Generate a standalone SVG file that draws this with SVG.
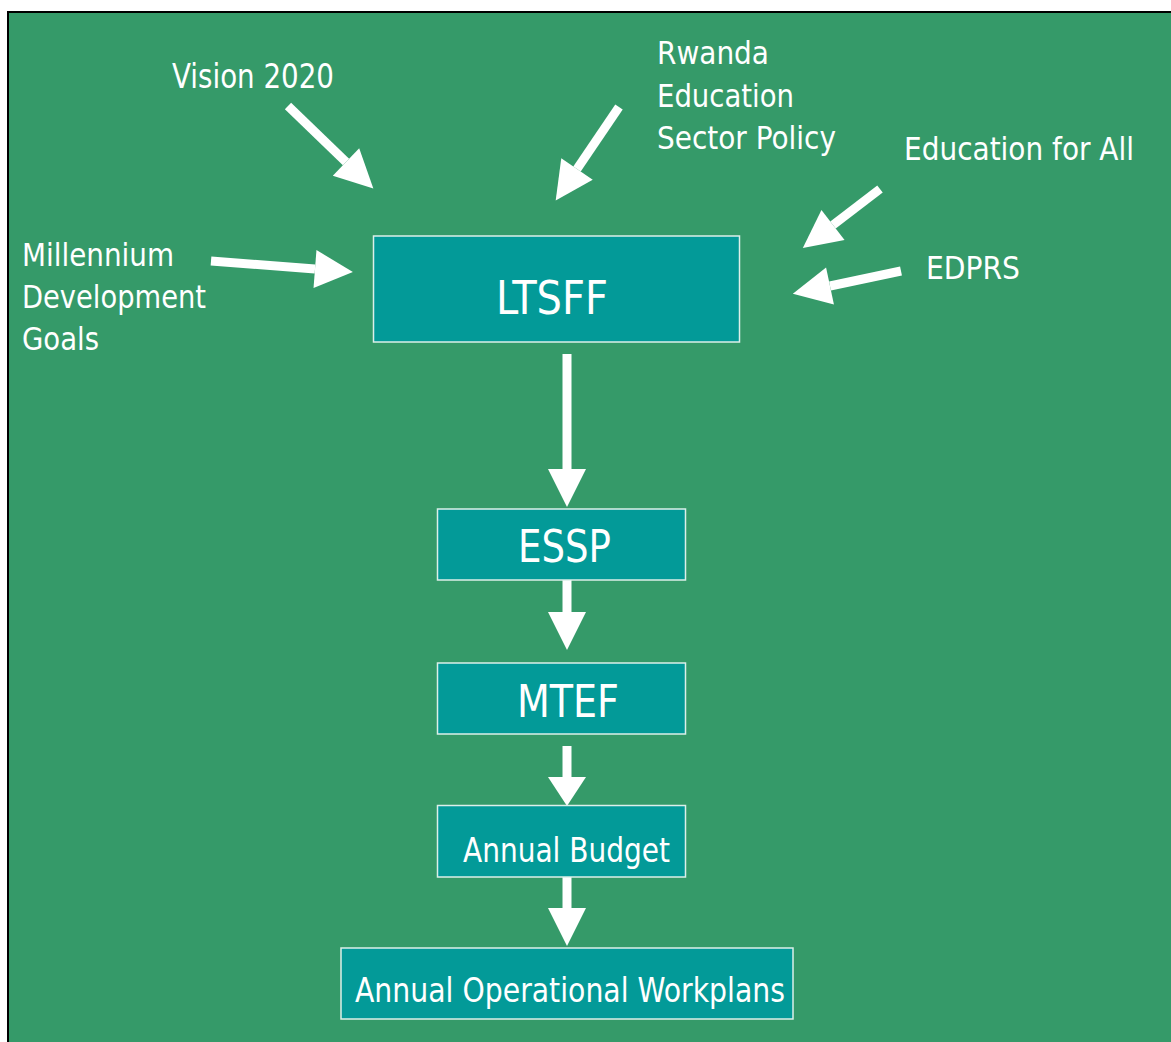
<svg xmlns="http://www.w3.org/2000/svg" width="1171" height="1042" viewBox="0 0 1171 1042">
  <style>
    .lbl { font-family: "DejaVu Sans Condensed", "DejaVu Sans", "Liberation Sans", sans-serif; fill: #ffffff; }
    .box { fill: #039A98; stroke: #dcefe9; stroke-width: 1.5; }
    .shaft { stroke: #ffffff; stroke-width: 9; fill: none; marker-end: url(#head); }
    .shaftS { stroke: #ffffff; stroke-width: 9; fill: none; marker-end: url(#headS); }
  </style>
  <defs>
    <marker id="head" markerUnits="userSpaceOnUse" orient="auto" markerWidth="42" markerHeight="42" refX="0" refY="19" viewBox="0 0 42 38" overflow="visible">
      <path d="M0,0 L38,19 L0,38 Z" fill="#ffffff"/>
    </marker>
    <marker id="headS" markerUnits="userSpaceOnUse" orient="auto" markerWidth="42" markerHeight="42" refX="0" refY="19" viewBox="0 0 42 38" overflow="visible">
      <path d="M0,0 L29,19 L0,38 Z" fill="#ffffff"/>
    </marker>
  </defs>
  <rect x="0" y="0" width="1171" height="1042" fill="#ffffff"/>
  <rect x="8" y="12" width="1170" height="1040" fill="#359A69" stroke="#000000" stroke-width="2"/>

  <g id="connectors">
    <line class="shaft" x1="288" y1="106" x2="346" y2="162"/>
    <line class="shaft" x1="619" y1="107" x2="577" y2="169"/>
    <line class="shaft" x1="211" y1="261" x2="315" y2="269"/>
    <line class="shaft" x1="880" y1="189" x2="833" y2="225"/>
    <line class="shaft" x1="901" y1="271" x2="830" y2="286"/>
    <line class="shaft" x1="567" y1="354" x2="567" y2="469"/>
    <line class="shaft" x1="567" y1="580" x2="567" y2="612"/>
    <line class="shaftS" x1="567" y1="746" x2="567" y2="777"/>
    <line class="shaft" x1="567" y1="877" x2="567" y2="908"/>
  </g>

  <g id="vision">
    <text class="lbl" x="172" y="88" font-size="33" textLength="162" lengthAdjust="spacingAndGlyphs">Vision 2020</text>
  </g>
  <g id="rwanda">
    <text class="lbl" x="657" y="64" font-size="32" textLength="112" lengthAdjust="spacingAndGlyphs">Rwanda</text>
    <text class="lbl" x="657" y="107" font-size="32" textLength="137" lengthAdjust="spacingAndGlyphs">Education</text>
    <text class="lbl" x="657" y="149" font-size="32" textLength="179" lengthAdjust="spacingAndGlyphs">Sector Policy</text>
  </g>
  <g id="efa">
    <text class="lbl" x="904" y="160" font-size="32" textLength="230" lengthAdjust="spacingAndGlyphs">Education for All</text>
  </g>
  <g id="edprs">
    <text class="lbl" x="926" y="279" font-size="32" textLength="94" lengthAdjust="spacingAndGlyphs">EDPRS</text>
  </g>
  <g id="mdg">
    <text class="lbl" x="22" y="266" font-size="32" textLength="152" lengthAdjust="spacingAndGlyphs">Millennium</text>
    <text class="lbl" x="22" y="308" font-size="32" textLength="184" lengthAdjust="spacingAndGlyphs">Development</text>
    <text class="lbl" x="22" y="350" font-size="32" textLength="77" lengthAdjust="spacingAndGlyphs">Goals</text>
  </g>

  <g id="ltsff">
    <rect class="box" x="373.5" y="236" width="366" height="106"/>
    <text class="lbl" x="496" y="314" font-size="46" textLength="112" lengthAdjust="spacingAndGlyphs">LTSFF</text>
  </g>
  <g id="essp">
    <rect class="box" x="437.5" y="509" width="248" height="71"/>
    <text class="lbl" x="518" y="562" font-size="45" textLength="93" lengthAdjust="spacingAndGlyphs">ESSP</text>
  </g>
  <g id="mtef">
    <rect class="box" x="437.5" y="663" width="248" height="71"/>
    <text class="lbl" x="517" y="717" font-size="45" textLength="102" lengthAdjust="spacingAndGlyphs">MTEF</text>
  </g>
  <g id="budget">
    <rect class="box" x="437.5" y="805.5" width="248" height="71.5"/>
    <text class="lbl" x="463" y="862" font-size="33" textLength="207" lengthAdjust="spacingAndGlyphs">Annual Budget</text>
  </g>
  <g id="workplans">
    <rect class="box" x="341" y="948" width="452" height="71"/>
    <text class="lbl" x="355" y="1002" font-size="33" textLength="430" lengthAdjust="spacingAndGlyphs">Annual Operational Workplans</text>
  </g>
</svg>
